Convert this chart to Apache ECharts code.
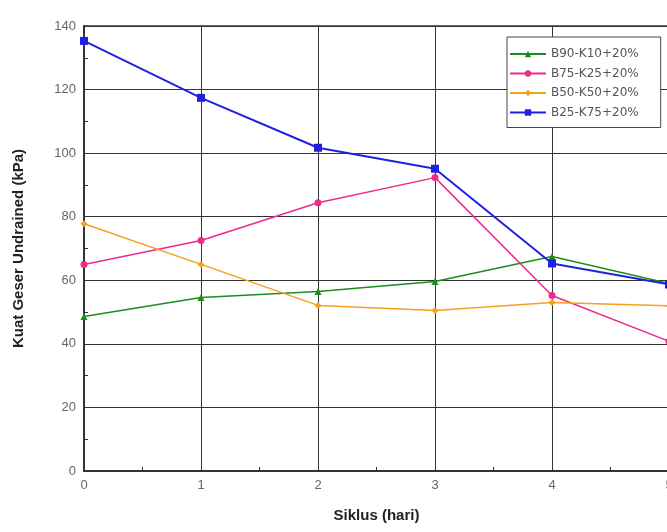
<!DOCTYPE html>
<html><head><meta charset="utf-8">
<script src="https://cdn.jsdelivr.net/npm/echarts@6/dist/echarts.min.js"></script>
<style>html,body{margin:0;padding:0;background:#fff}#c{width:667px;height:532px}</style>
</head><body><div id="c"></div>
<script>
const xValues = [0, 1, 2, 3, 4, 5];
const seriesNames = ['B90-K10+20%', 'B75-K25+20%', 'B50-K50+20%', 'B25-K75+20%'];
const b90 = [48.6, 54.6, 56.5, 59.6, 67.5, 59.0];
const b75 = [65.0, 72.5, 84.4, 92.3, 55.2, 40.8];
const b50 = [77.8, 65.0, 52.1, 50.5, 53.0, 52.0];
const b25 = [135.3, 117.4, 101.7, 95.1, 65.3, 58.7];
const colors = ['#1c8c1c', '#ee2a8a', '#f5a020', '#2020e0'];
const symbols = ['triangle', 'circle', 'diamond', 'rect'];
const allData = [b90, b75, b50, b25];

const chart = echarts.init(document.getElementById('c'));
chart.setOption({
  animation: false,
  backgroundColor: '#fff',
  grid: { left: 84, top: 26, width: 585, height: 445, show: true, borderColor: '#333', borderWidth: 1.5, backgroundColor: 'transparent', outerBoundsMode: 'none', containLabel: false },
  legend: {
    left: 507, top: 37, orient: 'vertical',
    itemWidth: 36, itemHeight: 8, itemGap: 7.5,
    padding: [11, 22, 9, 2],
    borderColor: '#444', borderWidth: 1, backgroundColor: '#fff',
    textStyle: { fontFamily: 'DejaVu Sans', fontSize: 12, color: '#555' },
    data: seriesNames
  },
  xAxis: {
    type: 'value', min: 0, max: 5, interval: 1,
    name: 'Siklus (hari)', nameLocation: 'middle', nameGap: 37,
    nameTextStyle: { fontFamily: 'Liberation Sans', fontSize: 15, fontWeight: 'bold', color: '#222' },
    axisLine: { show: true, onZero: false, lineStyle: { color: '#333', width: 2 } },
    axisTick: { show: true, inside: true, length: 5, lineStyle: { color: '#333' } },
    minorTick: { show: true, splitNumber: 2, length: 4, lineStyle: { color: '#333' } },
    axisLabel: { fontFamily: 'Liberation Sans', fontSize: 13, color: '#666', margin: 8 },
    splitLine: { show: true, lineStyle: { color: '#333', width: 1 } }
  },
  yAxis: {
    type: 'value', min: 0, max: 140, interval: 20,
    name: 'Kuat Geser Undrained (kPa)', nameLocation: 'middle', nameGap: 58,
    nameTextStyle: { fontFamily: 'Liberation Sans', fontSize: 15, fontWeight: 'bold', color: '#222' },
    axisLine: { show: true, onZero: false, lineStyle: { color: '#333', width: 2 } },
    axisTick: { show: true, inside: true, length: 5, lineStyle: { color: '#333' } },
    minorTick: { show: true, splitNumber: 2, length: 4, lineStyle: { color: '#333' } },
    axisLabel: { fontFamily: 'Liberation Sans', fontSize: 13, color: '#666', margin: 8 },
    splitLine: { show: true, lineStyle: { color: '#333', width: 1 } }
  },
  series: seriesNames.map((n, i) => ({
    name: n, type: 'line',
    data: xValues.map((x, j) => [x, allData[i][j]]),
    symbol: symbols[i], symbolSize: i === 3 ? 8 : 7,
    showSymbol: true,
    lineStyle: { color: colors[i], width: i === 3 ? 2 : 1.5 },
    itemStyle: { color: colors[i] },
    clip: false, z: 3 + i
  }))
});
</script></body></html>
